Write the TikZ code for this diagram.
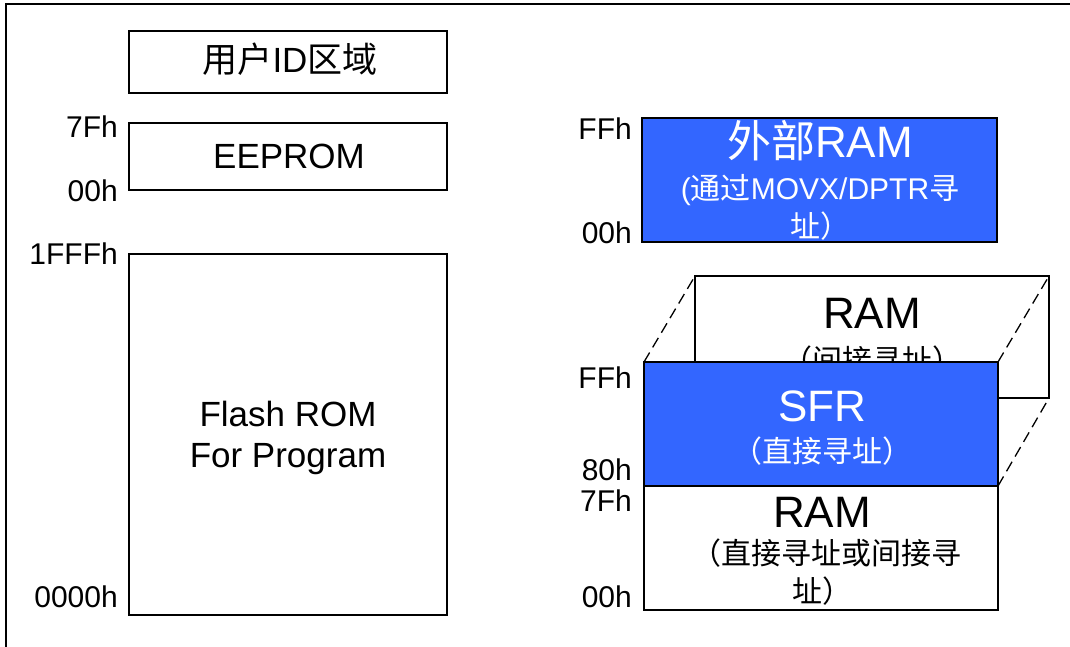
\documentclass[tikz,border=0pt]{standalone}
\usepackage{fontspec}
\setmainfont{Liberation Sans}
\newfontfamily\cjk{Noto Sans CJK SC}
\definecolor{memblue}{RGB}{51,102,255}
\tikzset{
  membox/.style={draw=black, line width=1.5pt, fill=white, inner sep=0pt, outer sep=0pt},
  bluebox/.style={membox, fill=memblue},
  addr/.style={anchor=base east, inner sep=0pt, font=\fontsize{30}{32}\selectfont},
  big/.style={anchor=base, inner sep=0pt, font=\fontsize{35}{40}\selectfont},
  huge/.style={anchor=base, inner sep=0pt, font=\fontsize{44}{48}\selectfont},
  sub/.style={anchor=base, inner sep=0pt, font=\fontsize{30}{32}\selectfont},
  persp/.style={line width=1.3pt, dash pattern=on 11pt off 6pt}
}
\begin{document}
\begin{tikzpicture}[x=1pt,y=-1pt]
\useasboundingbox (0,0) rectangle (1070,647);
% frame
\draw[line width=2.5pt] (6,647) -- (6,4) -- (1070,4);

% left column
\node[membox, minimum width=318pt, minimum height=62pt] (uid) at (288,62) {};
\node[big] (uidt) at (290,73) {{\cjk 用户}ID{\cjk 区域}};

\node[membox, minimum width=318pt, minimum height=67pt] (eep) at (288,156.5) {};
\node[big] (eept) at (289,168) {EEPROM};
\node[addr] (a7f) at (118,138) {7Fh};
\node[addr] (a00) at (118,201) {00h};

\node[membox, minimum width=318pt, minimum height=361pt] (flash) at (288,434.5) {};
\node[big] (fl1) at (288,426) {Flash ROM};
\node[big] (fl2) at (288,467) {For Program};
\node[addr] (a1fff) at (118,264) {1FFFh};
\node[addr] (a0000) at (118,607) {0000h};

% external RAM
\node[bluebox, minimum width=355pt, minimum height=124pt] (xram) at (819.5,180) {};
\node[huge, text=white] (xr1) at (820,158) {{\cjk 外部}RAM};
\node[sub, text=white] (xr2) at (820,200) {({\cjk 通过}MOVX/DPTR{\cjk 寻}};
\node[sub, text=white] (xr3) at (820,237) {{\cjk 址）}};
\node[addr] (xff) at (632,140) {FFh};
\node[addr] (x00) at (632,243) {00h};

% upper internal RAM (behind)
\node[membox, minimum width=354pt, minimum height=122pt] (back) at (872,337) {};
\node[huge] (bk1) at (872,328) {RAM};
\node[sub] (bk2) at (872,371) {{\cjk （间接寻址）}};

% SFR
\node[bluebox, minimum width=354pt, minimum height=124pt] (sfr) at (821,424) {};
\node[huge, text=white] (sf1) at (822,421) {SFR};
\node[sub, text=white] (sf2) at (822,462) {{\cjk （直接寻址）}};
\node[addr] (sff) at (632,388) {FFh};
\node[addr] (s80) at (632,480) {80h};

% lower RAM
\node[membox, minimum width=354pt, minimum height=124pt] (low) at (821,548) {};
\node[huge] (lw1) at (822,527) {RAM};
\node[sub] (lw2) at (826,564) {{\cjk （直接寻址或间接寻}};
\node[sub] (lw3) at (822,602) {{\cjk 址）}};
\node[addr] (l7f) at (632,511) {7Fh};
\node[addr] (l00) at (632,607) {00h};

% perspective lines
\draw[persp] (sfr.north west) -- (back.north west);
\draw[persp] (sfr.north east) -- (back.north east);
\draw[persp] (sfr.south east) -- (back.south east);
\end{tikzpicture}
\end{document}
